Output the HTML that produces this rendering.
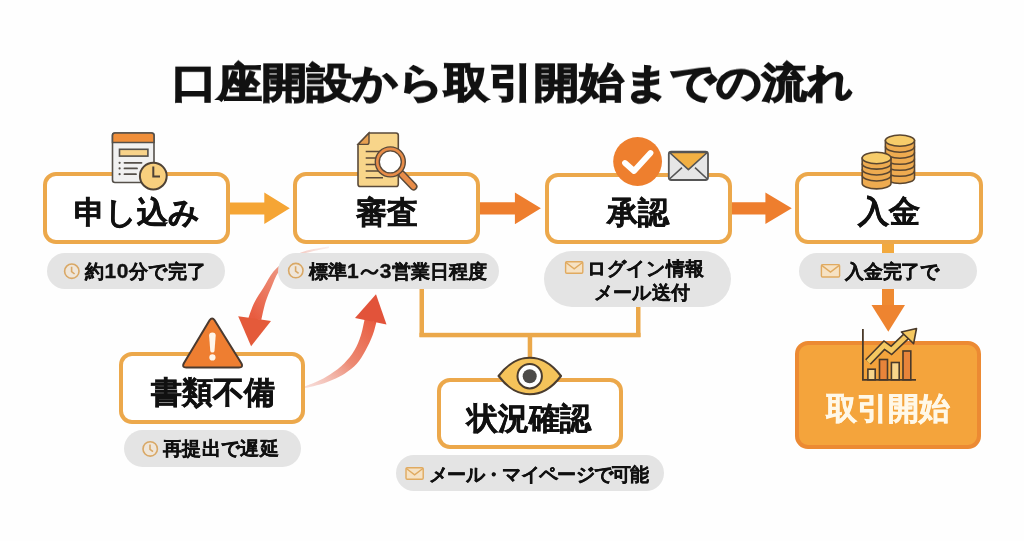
<!DOCTYPE html>
<html lang="ja">
<head>
<meta charset="utf-8">
<style>
html,body{margin:0;padding:0;background:#fefefe;}
body{width:1024px;height:541px;position:relative;overflow:hidden;font-family:"Liberation Sans",sans-serif;color:#111;}
.title,.bt,.pt{will-change:transform;}
.a{position:absolute;}
.title{position:absolute;left:0;width:1024px;top:52.5px;text-align:center;font-size:45px;font-weight:700;line-height:60px;-webkit-text-stroke:1.8px #111;transform:scaleY(0.9);transform-origin:50% 29.5px;letter-spacing:0px;white-space:nowrap;}
.box{position:absolute;box-sizing:border-box;border:4px solid #eca84b;border-radius:13px;background:#fff;}
.bt{position:absolute;width:300px;text-align:center;font-size:31px;font-weight:700;line-height:40px;-webkit-text-stroke:0.5px #111;white-space:nowrap;}
.pill{position:absolute;box-sizing:border-box;background:#e4e4e4;border-radius:20px;}
.pt{position:absolute;width:300px;text-align:center;font-size:19px;font-weight:700;line-height:24px;white-space:nowrap;-webkit-text-stroke:0.35px #111;}
svg{position:absolute;left:0;top:0;overflow:visible;}
.d{font-size:21px;}
svg.w{position:relative;display:inline-block;vertical-align:middle;margin:0 1px;top:-1px;}
</style>
</head>
<body>
<div class="title">口座開設から取引開始までの流れ</div>

<!-- connectors (behind) -->
<svg width="1024" height="541" viewBox="0 0 1024 541">
  <defs>
    <linearGradient id="gA" x1="0" y1="0" x2="1" y2="1">
      <stop offset="0" stop-color="#f7d2c4" stop-opacity="0.6"/>
      <stop offset="1" stop-color="#e9553a"/>
    </linearGradient>
    <linearGradient id="gB" gradientUnits="userSpaceOnUse" x1="305" y1="386" x2="372" y2="318">
      <stop offset="0" stop-color="#f3c7c0" stop-opacity="0.6"/>
      <stop offset="0.5" stop-color="#ec8a74"/>
      <stop offset="1" stop-color="#e85c40"/>
    </linearGradient>
    <linearGradient id="gA2" gradientUnits="userSpaceOnUse" x1="328" y1="247" x2="255" y2="318">
      <stop offset="0" stop-color="#f0d0cc" stop-opacity="0.35"/>
      <stop offset="0.45" stop-color="#ee9a86"/>
      <stop offset="1" stop-color="#e85c40"/>
    </linearGradient>
  </defs>
  <!-- bracket connector lines -->
  <g fill="#eba84a">
    <rect x="419.5" y="287" width="4.5" height="50"/>
    <rect x="636" y="305" width="4.5" height="32"/>
    <rect x="419.5" y="332.8" width="221" height="4.5"/>
    <rect x="527.7" y="335" width="4.5" height="26"/>
    <rect x="882" y="243" width="12" height="12" fill="#f2a93e"/>
  </g>
  <!-- curved arrow A: from review down to 書類不備 -->
  <path d="M329.0,246.6 C324.8,247.4 311.0,249.2 304.0,251.4 C297.0,253.6 292.1,256.4 287.0,259.8 C281.9,263.2 277.4,266.9 273.5,271.5 C269.6,276.1 266.8,282.4 263.6,287.5 C260.4,292.6 257.1,297.1 254.5,302.3 C251.9,307.5 249.3,315.8 248.3,318.5 L261.3,320.0 C262.0,317.1 263.8,307.7 265.5,302.3 C267.2,296.9 269.1,292.6 271.3,287.5 C273.5,282.4 275.4,276.3 278.5,272.0 C281.6,267.7 285.8,264.6 290.0,261.5 C294.2,258.4 297.5,255.8 304.0,253.6 C310.5,251.3 324.8,248.9 329.0,248.0 Z" fill="url(#gA2)"/>
  <polygon points="238.2,316.2 271,321.1 251.1,346.2" fill="#e45a3a"/>
  <!-- curved arrow B: from 書類不備 up to review -->
  <path d="M305.0,386.3 C307.0,385.5 312.8,383.5 317.0,381.5 C321.2,379.5 325.5,377.5 330.0,374.5 C334.5,371.5 340.1,367.5 344.1,363.5 C348.2,359.5 351.5,355.3 354.3,350.6 C357.1,345.9 359.2,340.6 360.9,335.3 C362.6,330.0 364.1,321.5 364.8,318.7 L376.4,322.2 C375.8,324.4 374.4,330.6 372.6,335.3 C370.8,340.0 368.1,345.9 365.5,350.6 C362.9,355.4 360.2,360.0 356.8,363.8 C353.4,367.6 348.9,370.9 345.0,373.5 C341.1,376.1 337.3,377.7 333.3,379.5 C329.3,381.3 325.5,382.8 320.8,384.2 C316.1,385.6 307.6,387.4 305.0,388.0 Z" fill="url(#gB)"/>
  <polygon points="355,317.9 386.5,324.5 376,294.2" fill="#e2533a"/>
</svg>

<!-- horizontal arrows -->
<svg width="1024" height="541" viewBox="0 0 1024 541">
  <polygon points="229,202.5 264.3,202.5 264.3,192.4 289.8,208.3 264.3,224 264.3,214.6 229,214.6" fill="#f5a535"/>
  <polygon points="480,202.2 514.9,202.2 514.9,192.4 540.9,208.3 514.9,224.2 514.9,214.6 480,214.6" fill="#ee7e2e"/>
  <polygon points="731,202.2 765.4,202.2 765.4,192.4 791.8,208.3 765.4,224 765.4,214.6 731,214.6" fill="#ee7e2e"/>
  <!-- down arrow to 取引開始 -->
  <rect x="882" y="287" width="12" height="19" fill="#ee8a32"/>
  <polygon points="871.5,305 905,305 888.3,331.7" fill="#ee8430"/>
</svg>

<!-- boxes -->
<div class="box" style="left:43px;top:172px;width:187px;height:72px;"></div>
<div class="box" style="left:293px;top:172px;width:187px;height:72px;"></div>
<div class="box" style="left:544.5px;top:172.5px;width:187px;height:71px;"></div>
<div class="box" style="left:795px;top:172px;width:188px;height:72px;"></div>
<div class="box" style="left:119px;top:351.5px;width:186px;height:72.5px;"></div>
<div class="box" style="left:437px;top:377.8px;width:186px;height:71.7px;"></div>
<div class="box" style="left:795px;top:341px;width:186px;height:108px;background:#f4a43c;border-color:#ec8a33;"></div>

<!-- box titles -->
<div class="bt" style="left:-13.0px;top:192.5px;">申し込み</div>
<div class="bt" style="left:237.0px;top:192.5px;">審査</div>
<div class="bt" style="left:487.5px;top:192.8px;">承認</div>
<div class="bt" style="left:738.5px;top:192.3px;">入金</div>
<div class="bt" style="left:62.7px;top:372.6px;">書類不備</div>
<div class="bt" style="left:379.3px;top:398.7px;">状況確認</div>
<div class="bt" style="left:738.1px;top:388.7px;color:#fff8e8;-webkit-text-stroke:0.6px #fff8e8;">取引開始</div>

<!-- pills -->
<div class="pill" style="left:47px;top:253px;width:178px;height:35.5px;"></div>
<div class="pill" style="left:278px;top:253px;width:220.5px;height:35.7px;"></div>
<div class="pill" style="left:544px;top:250.5px;width:186.5px;height:56.5px;border-radius:29px;"></div>
<div class="pill" style="left:799.4px;top:253.2px;width:177.6px;height:35.8px;"></div>
<div class="pill" style="left:124px;top:430px;width:176.5px;height:37px;"></div>
<div class="pill" style="left:395.5px;top:455.4px;width:268px;height:36px;"></div>

<!-- pill texts -->
<div class="pt" style="left:-4.2px;top:259.0px;letter-spacing:0.5px;">約<span class="d">10</span>分で完了</div>
<div class="pt" style="left:248.4px;top:259.0px;letter-spacing:0.15px;">標準<span class="d">1</span><svg class="w" width="19" height="10" viewBox="0 0 19 10"><path d="M1.8,6.6 C4,2.6 7,2.4 9.5,4.8 C12,7.2 15,7.4 17.2,3.4" fill="none" stroke="#111" stroke-width="2.6" stroke-linecap="round"/></svg><span class="d">3</span>営業日程度</div>
<div class="pt" style="left:495.9px;top:257.4px;letter-spacing:0.7px;">ログイン情報</div>
<div class="pt" style="left:491.5px;top:280.9px;letter-spacing:0.4px;">メール送付</div>
<div class="pt" style="left:742.0px;top:260.2px;letter-spacing:-0.3px;">入金完了で</div>
<div class="pt" style="left:71.4px;top:436.5px;letter-spacing:0.4px;">再提出で遅延</div>
<div class="pt" style="left:389.0px;top:462.8px;letter-spacing:-0.7px;">メール・マイページで可能</div>

<!-- small pill icons -->
<svg width="1024" height="541" viewBox="0 0 1024 541">
  <g fill="#efe6da" stroke="#d9a866" stroke-width="1.6">
    <circle cx="71.8" cy="271.2" r="7.2"/><path d="M71.6,266.8 V271.6 L74.6,274" fill="none"/>
    <circle cx="295.8" cy="270.6" r="7.2"/><path d="M295.6,266.2 V271 L298.6,273.4" fill="none"/>
    <circle cx="150.2" cy="448.9" r="7.2"/><path d="M150,444.5 V449.3 L153,451.7" fill="none"/>
  </g>
  <g stroke="#e0aa60" stroke-width="1.4" fill="#f6e2c4">
    <rect x="565.6" y="261.8" width="17.2" height="11.4" rx="1.2"/>
    <rect x="821.4" y="264.6" width="18.2" height="12.4" rx="1.2"/>
    <rect x="406" y="467.8" width="17.2" height="11.4" rx="1.2"/>
  </g>
  <g stroke="#e0aa60" stroke-width="1.4" fill="none">
    <path d="M565.6,262.3 L574.2,268.8 L582.8,262.3"/>
    <path d="M821.4,265.1 L830.5,272 L839.6,265.1"/>
    <path d="M406,468.3 L414.6,474.8 L423.2,468.3"/>
  </g>
</svg>

<!-- icons -->
<svg width="1024" height="541" viewBox="0 0 1024 541">
  <!-- form + clock -->
  <g stroke="#55504a" stroke-width="1.6">
    <rect x="112.5" y="133" width="41.5" height="49.5" rx="2.5" fill="#f1f1f1"/>
    <path d="M112.5,142.5 V135.5 Q112.5,133 115,133 H151.5 Q154,133 154,135.5 V142.5 Z" fill="#f08f3a"/>
    <rect x="119.5" y="149.3" width="28.4" height="6.8" fill="#f8d38a"/>
  </g>
  <g stroke="#55504a" stroke-width="1.8" stroke-linecap="round">
    <path d="M124.5,162.8 H141.5 M124.5,168.4 H137 M124.5,174.2 H136"/>
  </g>
  <g fill="#55504a"><circle cx="119.6" cy="162.8" r="1.1"/><circle cx="119.6" cy="168.4" r="1.1"/><circle cx="119.6" cy="174.2" r="1.1"/></g>
  <circle cx="153.3" cy="176.1" r="13.4" fill="#f8cf7e" stroke="#4e4236" stroke-width="2"/>
  <path d="M153.3,166.5 V176.5 H160" fill="none" stroke="#4e4236" stroke-width="2"/>

  <!-- document + magnifier -->
  <path d="M369,133 H396 Q398.3,133 398.3,135.3 V184.2 Q398.3,186.5 396,186.5 H360.3 Q358,186.5 358,184.2 V144.4 Z" fill="#f8d58a" stroke="#5a4a3a" stroke-width="1.6"/>
  <path d="M358,144.4 L369,133 V142.2 Q369,144.4 366.8,144.4 Z" fill="#e8a050" stroke="#5a4a3a" stroke-width="1.4"/>
  <g stroke="#5a4a3a" stroke-width="1.6"><path d="M365.7,151.5 H386 M365.7,158 H380 M365.7,164.5 H380 M365.7,171 H380 M365.7,177.8 H383"/></g>
  <path d="M402,174.5 L413.5,186.5" stroke="#5a4a3a" stroke-width="8" stroke-linecap="round"/>
  <path d="M402,174.5 L413.5,186.5" stroke="#e88c48" stroke-width="5" stroke-linecap="round"/>
  <circle cx="390.3" cy="161.9" r="13" fill="#fff" stroke="#e88c48" stroke-width="4"/>
  <circle cx="390.3" cy="161.9" r="15" fill="none" stroke="#5a4a3a" stroke-width="1.4"/>
  <circle cx="390.3" cy="161.9" r="11" fill="none" stroke="#5a4a3a" stroke-width="1.4"/>

  <!-- check circle + envelope -->
  <circle cx="637.6" cy="161.5" r="24.4" fill="#ee7f2e"/>
  <path d="M625,163 L634,171 L650.5,153" fill="none" stroke="#fff" stroke-width="5.8" stroke-linecap="round" stroke-linejoin="round"/>
  <rect x="668.8" y="151.6" width="39.2" height="28.4" rx="2.5" fill="#e6e6e6" stroke="#555" stroke-width="1.8"/>
  <path d="M669.5,152.5 L688.4,169.7 L707.3,152.5 Z" fill="#f2b043" stroke="#555" stroke-width="1.6" stroke-linejoin="round"/>
  <path d="M669.5,179 L682,167.6 M707.3,179 L695,167.6" stroke="#555" stroke-width="1.6"/>

  <!-- coins -->
  <g stroke="#5a4630" stroke-width="1.6">
    <!-- right stack -->
    <path d="M885.4,140.6 V177.9 A14.55,5.6 0 0 0 914.5,177.9 V140.6 Z" fill="#eeab50"/>
    <path d="M885.4,146.6 A14.55,5.6 0 0 0 914.5,146.6 M885.4,152.6 A14.55,5.6 0 0 0 914.5,152.6 M885.4,158.7 A14.55,5.6 0 0 0 914.5,158.7 M885.4,164.7 A14.55,5.6 0 0 0 914.5,164.7 M885.4,170.7 A14.55,5.6 0 0 0 914.5,170.7" fill="none"/>
    <ellipse cx="899.95" cy="140.6" rx="14.55" ry="5.6" fill="#f7cc6a"/>
    <!-- left stack -->
    <path d="M862.2,158 V183.2 A14.4,5.7 0 0 0 891,183.2 V158 Z" fill="#eeab50"/>
    <path d="M862.2,163.4 A14.4,5.7 0 0 0 891,163.4 M862.2,169.3 A14.4,5.7 0 0 0 891,169.3 M862.2,175.3 A14.4,5.7 0 0 0 891,175.3" fill="none"/>
    <ellipse cx="876.6" cy="158" rx="14.4" ry="5.7" fill="#f7cc6a"/>
  </g>

  <!-- warning triangle -->
  <path d="M209.6,320.3 Q212.1,316.6 214.6,320.3 L241.5,363.5 Q243.5,367.4 239,367.4 H186.2 Q181.7,367.4 183.7,363.5 Z" fill="#ee7e31" stroke="#4a3a30" stroke-width="2" stroke-linejoin="round"/>
  <path d="M209.1,335.5 Q209.1,332.4 212.4,332.4 Q215.7,332.4 215.7,335.5 L214.5,351 Q214.3,352.6 212.4,352.6 Q210.5,352.6 210.3,351 Z" fill="#fff6ea"/>
  <circle cx="212.4" cy="357.4" r="3.1" fill="#fff6ea"/>

  <!-- eye -->
  <path d="M498.6,376 C510,361 520,357.8 529.8,357.8 C539.6,357.8 549.6,361 561,376 C549.6,391 539.6,394.2 529.8,394.2 C520,394.2 510,391 498.6,376 Z" fill="#f5c35a" stroke="#4a3c2e" stroke-width="2.1" stroke-linejoin="round"/>
  <circle cx="529.7" cy="376.2" r="12.2" fill="#fff" stroke="#4a3c2e" stroke-width="2"/>
  <circle cx="529.7" cy="376.2" r="7" fill="#4d4b49"/>

  <!-- chart -->
  <g stroke="#4a3a2a" stroke-width="1.6">
    <rect x="867.9" y="369.2" width="7.3" height="10.6" fill="#f8d58a"/>
    <rect x="879.5" y="359.5" width="8" height="20.3" fill="#e8843a"/>
    <rect x="891.4" y="362.5" width="7.8" height="17.3" fill="#f8d58a"/>
    <rect x="903" y="351" width="7.8" height="28.8" fill="#e8843a"/>
  </g>
  <path d="M862.9,329 V379.8 H916" fill="none" stroke="#4a3a2a" stroke-width="1.8"/>
  <path d="M868,362 L884.3,345.2 L891.4,350.4 L906,336.5" fill="none" stroke="#4a3a2a" stroke-width="8" stroke-linejoin="miter"/>
  <path d="M868,362 L884.3,345.2 L891.4,350.4 L907,335.5" fill="none" stroke="#f5c860" stroke-width="4.8" stroke-linejoin="miter"/>
  <polygon points="916.5,328.5 913.6,343.6 901.4,332" fill="#f5c860" stroke="#4a3a2a" stroke-width="1.6" stroke-linejoin="round"/>
</svg>

</body>
</html>
